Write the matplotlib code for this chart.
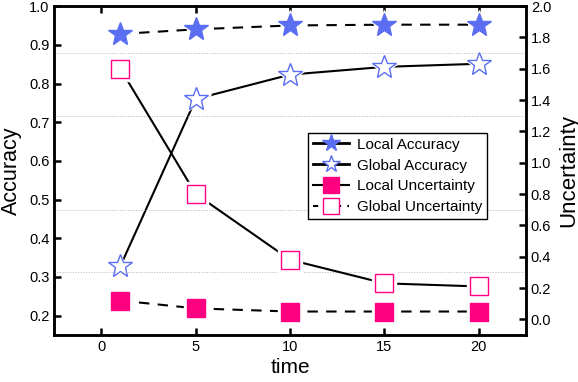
import matplotlib.pyplot as plt
from matplotlib.lines import Line2D

plt.rcParams['font.family'] = ['Liberation Sans', 'DejaVu Sans']

# data
time = [1, 5, 10, 15, 20]
local_acc = [0.928, 0.940, 0.950, 0.952, 0.952]
global_acc = [0.328, 0.760, 0.823, 0.843, 0.851]
local_unc = [0.12, 0.07, 0.05, 0.05, 0.05]
global_unc = [1.60, 0.80, 0.38, 0.23, 0.21]
grid_levels = [1.7, 1.3, 0.7, 0.3]
left_ticks = [0.2, 0.3, 0.4, 0.5, 0.6, 0.7, 0.8, 0.9, 1.0]
right_ticks = [0.0, 0.2, 0.4, 0.6, 0.8, 1.0, 1.2, 1.4, 1.6, 1.8, 2.0]
x_ticks = [0, 5, 10, 15, 20]

blue = '#5b6ef2'
pink = '#ff0080'
lw = 1.5
dash = (5, 4)

fig = plt.figure(figsize=(5.78, 3.82), dpi=100)
ax1 = fig.add_axes([0.094, 0.123, 0.816, 0.861])
ax2 = ax1.twinx()

for y in grid_levels:
    ax2.axhline(y, color='#c0c0c0', lw=0.7, ls=(0, (1.2, 1.5)), zorder=0)


def series(ax, y, marker, ms, filled, color, ls):
    ax.plot(time, y, color='black', lw=lw, ls=ls, zorder=2)
    # white halo gives the gap between line and marker
    ax.plot(time, y, ls='none', marker=marker, ms=ms + 4, mfc='white',
            mec='white', zorder=3)
    ax.plot(time, y, ls='none', marker=marker, ms=ms,
            mfc=color if filled else 'white', mec=color, mew=1.0, zorder=4)


series(ax1, local_acc, '*', 18, True, blue, (0, dash))
series(ax1, global_acc, '*', 18, False, blue, '-')
series(ax2, local_unc, 's', 13, True, pink, (0, dash))
series(ax2, global_unc, 's', 13, False, pink, '-')

ax1.set_xlim(-2.5, 22.5)
ax1.set_ylim(0.15, 1.0)
ax2.set_ylim(-0.1, 2.0)
ax1.set_xticks(x_ticks)
ax1.set_yticks(left_ticks)
ax2.set_yticks(right_ticks)
ax1.set_yticklabels([f'{v:.1f}' for v in left_ticks])
ax2.set_yticklabels([f'{v:.1f}' for v in right_ticks])

ax1.set_xlabel('time', fontsize=15, labelpad=3)
ax1.set_ylabel('Accuracy', fontsize=15.5, labelpad=5)
ax2.set_ylabel('Uncertainty', fontsize=16, labelpad=5)

for ax in (ax1, ax2):
    for s in ax.spines.values():
        s.set_linewidth(1.8)
ax1.tick_params(axis='both', direction='in', length=5, width=1.8,
                labelsize=10.5, top=True, right=False)
ax2.tick_params(axis='y', direction='in', length=5, width=1.8, labelsize=10.5)

handles = [
    Line2D([], [], color='black', lw=2, marker='*', ms=13, mfc=blue, mec=blue),
    Line2D([], [], color='black', lw=2, marker='*', ms=13, mfc='white', mec=blue),
    Line2D([], [], color='black', lw=lw, marker='s', ms=11, mfc=pink, mec=pink),
    Line2D([], [], color='black', lw=lw, ls=(0, (2.5, 3)), marker='s', ms=11,
           mfc='white', mec=pink),
]
labels = ['Local Accuracy', 'Global Accuracy', 'Local Uncertainty',
          'Global Uncertainty']
leg = ax2.legend(handles, labels, loc='upper left', bbox_to_anchor=(0.538, 0.614),
                 borderaxespad=0, fontsize=11, handlelength=2.4, handletextpad=0.5,
                 labelspacing=0.45, fancybox=False, framealpha=1,
                 edgecolor='black', borderpad=0.3)
leg.get_frame().set_linewidth(1.0)

fig.savefig('out.png', dpi=100)
